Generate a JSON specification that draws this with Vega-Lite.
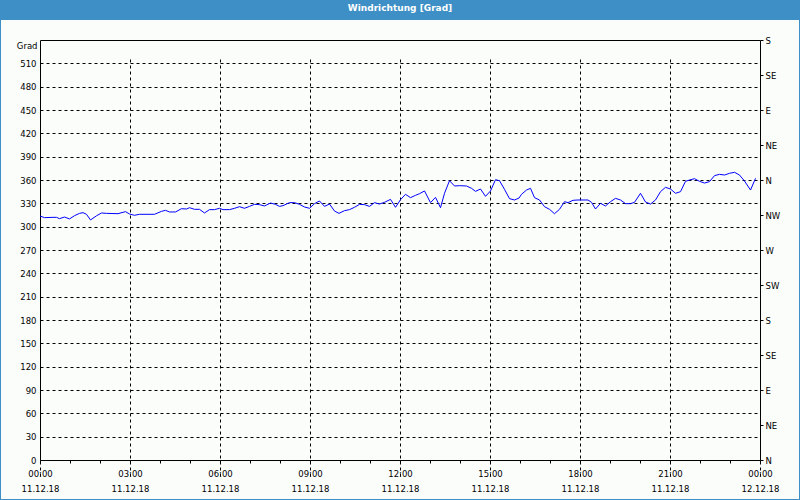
{
  "$schema": "https://vega.github.io/schema/vega-lite/v6.json",
  "width": 798,
  "height": 479,
  "autosize": {"type": "none"},
  "padding": {"left": 1, "right": 1, "top": 20, "bottom": 1},
  "background": "#3d8fc6",
  "title": {"text": "Windrichtung [Grad]", "color": "white", "font": "DejaVu Sans", "fontSize": 9, "fontWeight": "bold", "anchor": "middle", "offset": 7},
  "config": {
    "view": {"fill": "#fbfdfb", "stroke": null},
    "axis": {
      "domainColor": "black", "domainWidth": 1, "tickColor": "black", "tickWidth": 1,
      "labelColor": "black", "labelFont": "DejaVu Sans", "labelFontSize": 8.5,
      "gridColor": "black", "gridDash": [3, 3], "gridWidth": 1, "gridOpacity": 1
    }
  },
  "data": {"values": [
    {"t": "2018-12-11T00:00", "deg": 313.7},
    {"t": "2018-12-11T00:09", "deg": 311.6},
    {"t": "2018-12-11T00:26", "deg": 312.0},
    {"t": "2018-12-11T00:33", "deg": 312.0},
    {"t": "2018-12-11T00:39", "deg": 310.3},
    {"t": "2018-12-11T00:49", "deg": 312.4},
    {"t": "2018-12-11T00:59", "deg": 309.9},
    {"t": "2018-12-11T01:09", "deg": 314.1},
    {"t": "2018-12-11T01:19", "deg": 317.1},
    {"t": "2018-12-11T01:26", "deg": 318.0},
    {"t": "2018-12-11T01:33", "deg": 315.9},
    {"t": "2018-12-11T01:41", "deg": 308.6},
    {"t": "2018-12-11T01:53", "deg": 314.0},
    {"t": "2018-12-11T02:03", "deg": 317.6},
    {"t": "2018-12-11T02:13", "deg": 317.1},
    {"t": "2018-12-11T02:36", "deg": 316.7},
    {"t": "2018-12-11T02:51", "deg": 319.3},
    {"t": "2018-12-11T02:59", "deg": 316.3},
    {"t": "2018-12-11T03:09", "deg": 314.6},
    {"t": "2018-12-11T03:19", "deg": 315.9},
    {"t": "2018-12-11T03:49", "deg": 315.9},
    {"t": "2018-12-11T04:03", "deg": 319.7},
    {"t": "2018-12-11T04:11", "deg": 321.0},
    {"t": "2018-12-11T04:19", "deg": 318.9},
    {"t": "2018-12-11T04:31", "deg": 318.9},
    {"t": "2018-12-11T04:43", "deg": 323.1},
    {"t": "2018-12-11T04:53", "deg": 322.7},
    {"t": "2018-12-11T04:59", "deg": 324.4},
    {"t": "2018-12-11T05:09", "deg": 322.3},
    {"t": "2018-12-11T05:19", "deg": 322.3},
    {"t": "2018-12-11T05:29", "deg": 317.6},
    {"t": "2018-12-11T05:39", "deg": 321.9},
    {"t": "2018-12-11T05:49", "deg": 321.9},
    {"t": "2018-12-11T05:59", "deg": 323.6},
    {"t": "2018-12-11T06:06", "deg": 321.9},
    {"t": "2018-12-11T06:19", "deg": 321.9},
    {"t": "2018-12-11T06:29", "deg": 323.6},
    {"t": "2018-12-11T06:39", "deg": 325.7},
    {"t": "2018-12-11T06:49", "deg": 323.6},
    {"t": "2018-12-11T06:59", "deg": 326.1},
    {"t": "2018-12-11T07:09", "deg": 328.7},
    {"t": "2018-12-11T07:19", "deg": 328.3},
    {"t": "2018-12-11T07:29", "deg": 326.6},
    {"t": "2018-12-11T07:41", "deg": 330.4},
    {"t": "2018-12-11T07:51", "deg": 328.7},
    {"t": "2018-12-11T07:59", "deg": 326.1},
    {"t": "2018-12-11T08:06", "deg": 327.0},
    {"t": "2018-12-11T08:19", "deg": 330.9},
    {"t": "2018-12-11T08:29", "deg": 330.9},
    {"t": "2018-12-11T08:39", "deg": 328.7},
    {"t": "2018-12-11T08:49", "deg": 325.3},
    {"t": "2018-12-11T08:59", "deg": 323.6},
    {"t": "2018-12-11T09:09", "deg": 329.6},
    {"t": "2018-12-11T09:19", "deg": 333.0},
    {"t": "2018-12-11T09:29", "deg": 326.1},
    {"t": "2018-12-11T09:39", "deg": 329.1},
    {"t": "2018-12-11T09:49", "deg": 320.1},
    {"t": "2018-12-11T09:58", "deg": 317.1},
    {"t": "2018-12-11T10:09", "deg": 320.6},
    {"t": "2018-12-11T10:19", "deg": 321.9},
    {"t": "2018-12-11T10:29", "deg": 324.9},
    {"t": "2018-12-11T10:39", "deg": 328.7},
    {"t": "2018-12-11T10:49", "deg": 328.3},
    {"t": "2018-12-11T10:59", "deg": 326.1},
    {"t": "2018-12-11T11:09", "deg": 330.9},
    {"t": "2018-12-11T11:19", "deg": 329.1},
    {"t": "2018-12-11T11:29", "deg": 331.3},
    {"t": "2018-12-11T11:41", "deg": 335.1},
    {"t": "2018-12-11T11:51", "deg": 324.9},
    {"t": "2018-12-11T12:01", "deg": 334.7},
    {"t": "2018-12-11T12:11", "deg": 341.6},
    {"t": "2018-12-11T12:21", "deg": 337.3},
    {"t": "2018-12-11T12:31", "deg": 340.3},
    {"t": "2018-12-11T12:39", "deg": 342.4},
    {"t": "2018-12-11T12:49", "deg": 345.9},
    {"t": "2018-12-11T13:01", "deg": 330.9},
    {"t": "2018-12-11T13:11", "deg": 337.7},
    {"t": "2018-12-11T13:21", "deg": 324.4},
    {"t": "2018-12-11T13:29", "deg": 342.9},
    {"t": "2018-12-11T13:39", "deg": 359.1},
    {"t": "2018-12-11T13:49", "deg": 352.3},
    {"t": "2018-12-11T13:59", "deg": 352.7},
    {"t": "2018-12-11T14:13", "deg": 352.3},
    {"t": "2018-12-11T14:23", "deg": 349.3},
    {"t": "2018-12-11T14:31", "deg": 345.4},
    {"t": "2018-12-11T14:41", "deg": 348.4},
    {"t": "2018-12-11T14:51", "deg": 339.0},
    {"t": "2018-12-11T15:01", "deg": 345.9},
    {"t": "2018-12-11T15:11", "deg": 360.4},
    {"t": "2018-12-11T15:19", "deg": 359.1},
    {"t": "2018-12-11T15:29", "deg": 348.0},
    {"t": "2018-12-11T15:39", "deg": 336.0},
    {"t": "2018-12-11T15:49", "deg": 334.3},
    {"t": "2018-12-11T15:58", "deg": 336.8},
    {"t": "2018-12-11T16:03", "deg": 341.6},
    {"t": "2018-12-11T16:13", "deg": 347.1},
    {"t": "2018-12-11T16:21", "deg": 349.3},
    {"t": "2018-12-11T16:29", "deg": 337.3},
    {"t": "2018-12-11T16:39", "deg": 334.3},
    {"t": "2018-12-11T16:49", "deg": 325.7},
    {"t": "2018-12-11T16:59", "deg": 322.3},
    {"t": "2018-12-11T17:09", "deg": 316.7},
    {"t": "2018-12-11T17:19", "deg": 322.3},
    {"t": "2018-12-11T17:29", "deg": 332.1},
    {"t": "2018-12-11T17:36", "deg": 330.9},
    {"t": "2018-12-11T17:46", "deg": 333.9},
    {"t": "2018-12-11T17:56", "deg": 334.3},
    {"t": "2018-12-11T18:16", "deg": 334.3},
    {"t": "2018-12-11T18:23", "deg": 331.3},
    {"t": "2018-12-11T18:31", "deg": 322.7},
    {"t": "2018-12-11T18:41", "deg": 330.0},
    {"t": "2018-12-11T18:51", "deg": 326.6},
    {"t": "2018-12-11T19:01", "deg": 332.1},
    {"t": "2018-12-11T19:11", "deg": 336.4},
    {"t": "2018-12-11T19:21", "deg": 334.3},
    {"t": "2018-12-11T19:31", "deg": 329.6},
    {"t": "2018-12-11T19:41", "deg": 329.6},
    {"t": "2018-12-11T19:49", "deg": 331.3},
    {"t": "2018-12-11T20:01", "deg": 342.9},
    {"t": "2018-12-11T20:11", "deg": 331.7},
    {"t": "2018-12-11T20:21", "deg": 329.1},
    {"t": "2018-12-11T20:31", "deg": 334.3},
    {"t": "2018-12-11T20:41", "deg": 345.0},
    {"t": "2018-12-11T20:51", "deg": 350.6},
    {"t": "2018-12-11T21:01", "deg": 348.4},
    {"t": "2018-12-11T21:11", "deg": 342.9},
    {"t": "2018-12-11T21:21", "deg": 345.0},
    {"t": "2018-12-11T21:31", "deg": 358.3},
    {"t": "2018-12-11T21:39", "deg": 360.0},
    {"t": "2018-12-11T21:49", "deg": 361.7},
    {"t": "2018-12-11T21:59", "deg": 358.3},
    {"t": "2018-12-11T22:09", "deg": 356.1},
    {"t": "2018-12-11T22:19", "deg": 357.9},
    {"t": "2018-12-11T22:29", "deg": 365.6},
    {"t": "2018-12-11T22:39", "deg": 367.3},
    {"t": "2018-12-11T22:49", "deg": 366.4},
    {"t": "2018-12-11T22:59", "deg": 368.6},
    {"t": "2018-12-11T23:09", "deg": 369.9},
    {"t": "2018-12-11T23:19", "deg": 366.4},
    {"t": "2018-12-11T23:29", "deg": 358.7},
    {"t": "2018-12-11T23:41", "deg": 347.1},
    {"t": "2018-12-11T23:51", "deg": 362.1}
  ]},
  "layer": [
    {
      "mark": {"type": "line", "color": "#0000ff", "strokeWidth": 1},
      "encoding": {
        "x": {
          "field": "t", "type": "temporal",
          "scale": {"domain": [{"year": 2018, "month": 12, "date": 11, "hours": 0}, {"year": 2018, "month": 12, "date": 12, "hours": 0}], "range": [39, 759], "nice": false},
          "axis": {
            "orient": "bottom", "offset": -39, "title": null,
            "values": [
              {"year": 2018, "month": 12, "date": 11, "hours": 0},
              {"year": 2018, "month": 12, "date": 11, "hours": 3},
              {"year": 2018, "month": 12, "date": 11, "hours": 6},
              {"year": 2018, "month": 12, "date": 11, "hours": 9},
              {"year": 2018, "month": 12, "date": 11, "hours": 12},
              {"year": 2018, "month": 12, "date": 11, "hours": 15},
              {"year": 2018, "month": 12, "date": 11, "hours": 18},
              {"year": 2018, "month": 12, "date": 11, "hours": 21},
              {"year": 2018, "month": 12, "date": 12, "hours": 0}
            ],
            "tickSize": 3,
            "labelExpr": "[timeFormat(datum.value, '%H:%M'), timeFormat(datum.value, '%d.%m.%y')]",
            "labelPadding": 6, "labelAlign": "center", "labelBaseline": "top", "labelLineHeight": 15.5,
            "labelFlush": false, "labelOverlap": false,
            "grid": true
          }
        },
        "y": {
          "field": "deg", "type": "quantitative",
          "scale": {"domain": [0, 540], "range": [440, 20], "nice": false, "zero": false},
          "axis": {
            "orient": "left", "offset": -39,
            "values": [0, 30, 60, 90, 120, 150, 180, 210, 240, 270, 300, 330, 360, 390, 420, 450, 480, 510],
            "ticks": false, "labelPadding": 4, "grid": true,
            "title": "Grad", "titleAngle": 0, "titleX": -3, "titleY": 25, "titleAlign": "right", "titleBaseline": "middle",
            "titleFont": "DejaVu Sans", "titleFontSize": 8.5, "titleFontWeight": "normal", "titleColor": "black"
          }
        }
      }
    },
    {
      "mark": {"type": "line", "opacity": 0},
      "encoding": {
        "x": {
          "field": "t", "type": "temporal",
          "axis": {"orient": "top", "offset": -20, "title": null, "labels": false, "ticks": false, "grid": false, "domain": true}
        },
        "y": {
          "field": "deg", "type": "quantitative",
          "axis": {
            "orient": "right", "offset": -39, "title": null, "grid": false,
            "values": [0, 45, 90, 135, 180, 225, 270, 315, 360, 405, 450, 495, 540],
            "tickSize": 3, "labelPadding": 2, "labelAlign": "left", "labelBaseline": "middle",
            "labelExpr": "datum.value % 360 == 0 ? 'N' : datum.value % 360 == 45 ? 'NE' : datum.value % 360 == 90 ? 'E' : datum.value % 360 == 135 ? 'SE' : datum.value % 360 == 180 ? 'S' : datum.value % 360 == 225 ? 'SW' : datum.value % 360 == 270 ? 'W' : 'NW'"
          }
        }
      }
    },
    {
      "mark": {"type": "line", "opacity": 0},
      "encoding": {
        "x": {
          "field": "t", "type": "temporal",
          "axis": {
            "orient": "bottom", "offset": -39, "title": null, "labels": false, "grid": false, "domain": false, "tickSize": 3,
            "values": [
              {"year": 2018, "month": 12, "date": 11, "hours": 1},
              {"year": 2018, "month": 12, "date": 11, "hours": 2},
              {"year": 2018, "month": 12, "date": 11, "hours": 4},
              {"year": 2018, "month": 12, "date": 11, "hours": 5},
              {"year": 2018, "month": 12, "date": 11, "hours": 7},
              {"year": 2018, "month": 12, "date": 11, "hours": 8},
              {"year": 2018, "month": 12, "date": 11, "hours": 10},
              {"year": 2018, "month": 12, "date": 11, "hours": 11},
              {"year": 2018, "month": 12, "date": 11, "hours": 13},
              {"year": 2018, "month": 12, "date": 11, "hours": 14},
              {"year": 2018, "month": 12, "date": 11, "hours": 16},
              {"year": 2018, "month": 12, "date": 11, "hours": 17},
              {"year": 2018, "month": 12, "date": 11, "hours": 19},
              {"year": 2018, "month": 12, "date": 11, "hours": 20},
              {"year": 2018, "month": 12, "date": 11, "hours": 22},
              {"year": 2018, "month": 12, "date": 11, "hours": 23}
            ]
          }
        },
        "y": {"field": "deg", "type": "quantitative", "axis": null}
      }
    }
  ],
  "resolve": {"axis": {"x": "independent", "y": "independent"}}
}
